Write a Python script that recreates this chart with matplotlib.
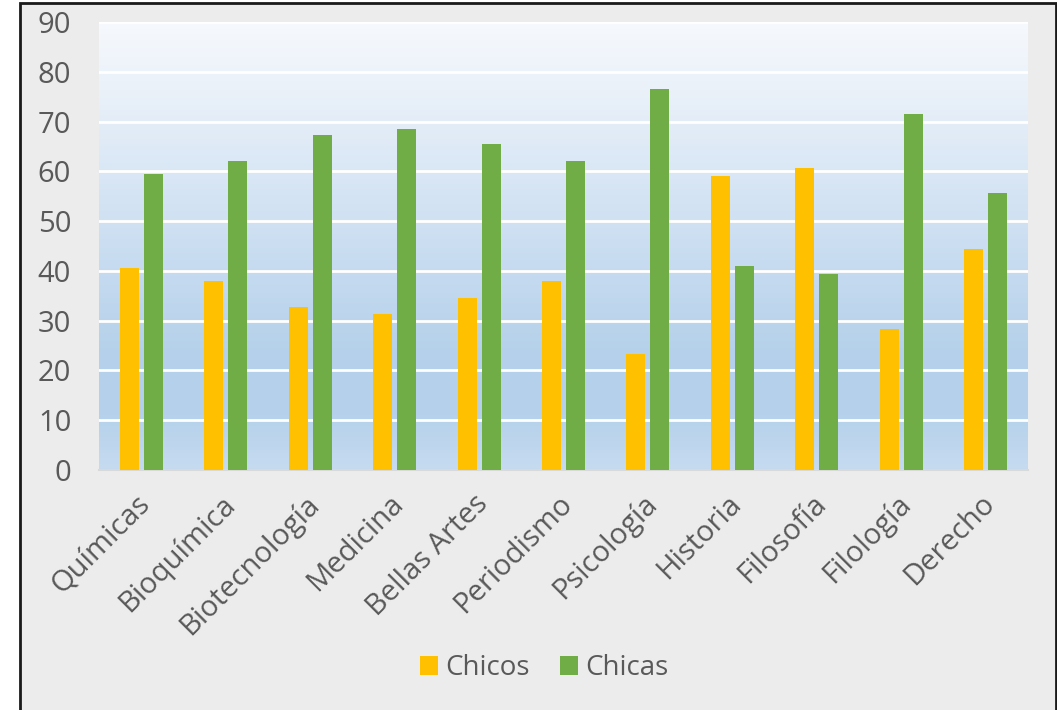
import matplotlib
matplotlib.use("Agg")
import matplotlib.pyplot as plt
import matplotlib.transforms as mtransforms
import numpy as np
from matplotlib.colors import LinearSegmentedColormap
from matplotlib.patches import Rectangle

plt.rcParams["font.family"] = ["Open Sans", "DejaVu Sans"]

carreras = ["Químicas", "Bioquímica", "Biotecnología", "Medicina", "Bellas Artes",
            "Periodismo", "Psicología", "Historia", "Filosofía", "Filología", "Derecho"]
chicos = [40.6, 38.0, 32.8, 31.4, 34.6, 38.0, 23.4, 59.1, 60.6, 28.4, 44.4]
chicas = [59.4, 62.0, 67.2, 68.6, 65.4, 62.0, 76.6, 40.9, 39.4, 71.6, 55.6]
yticks = list(range(0, 91, 10))

W, H = 1057, 710
fig = plt.figure(figsize=(W / 100, H / 100), dpi=100)
fig.patch.set_facecolor("white")

# marco gris con borde negro
fig.patches.append(Rectangle((20 / W, -0.01), 1036 / W, 1 - 3 / H + 0.01,
                             transform=fig.transFigure, facecolor="#ECECEC",
                             edgecolor="#1a1a1a", lw=2, zorder=-10))

ax = fig.add_axes([99 / W, 1 - 470 / H, 929 / W, 448 / H])
ax.set_facecolor("none")

# fondo degradado tipo Excel
grad = LinearSegmentedColormap.from_list(
    "fondo", [(0.0, "#C6DBF0"), (0.12, "#B5D1EB"), (0.25, "#B4D0EA"),
              (0.45, "#C6DBF0"), (0.65, "#D8E6F5"), (0.85, "#EAF1F9"),
              (1.0, "#F6F9FD")])
n = len(carreras)
ax.imshow(np.linspace(0, 1, 256).reshape(-1, 1), cmap=grad, aspect="auto",
          origin="lower", extent=(-0.5, n - 0.5, 0, 90), zorder=0)

x = np.arange(n)
ax.bar(x - 0.142, chicos, width=0.225, color="#FFC000", label="Chicos", zorder=3)
ax.bar(x + 0.142, chicas, width=0.225, color="#70AD47", label="Chicas", zorder=3)

ax.set_xlim(-0.5, n - 0.5)
ax.set_ylim(0, 90)
ax.set_yticks(yticks)
for t in yticks[1:]:
    ax.axhline(t, color="white", lw=2, zorder=1)

for s in ["top", "right", "left"]:
    ax.spines[s].set_visible(False)
ax.spines["bottom"].set_color("#D9D9D9")
ax.spines["bottom"].set_linewidth(1.5)

ax.tick_params(axis="y", length=0, pad=20, labelsize=21, labelcolor="#595959")
ax.tick_params(axis="x", length=0, pad=14, labelsize=21, labelcolor="#595959")
ax.set_xticks(x)
ax.set_xticklabels(carreras, rotation=45, ha="right", rotation_mode="anchor")
desplaza = mtransforms.ScaledTranslation(-4 / 72, 0, fig.dpi_scale_trans)
for lab in ax.get_xticklabels():
    lab.set_transform(lab.get_transform() + desplaza)

fig.legend(loc="center", bbox_to_anchor=(0.515, 1 - 668 / H), ncol=2, frameon=False,
           fontsize=20, labelcolor="#595959", handlelength=0.65, handleheight=0.65,
           handletextpad=0.25, columnspacing=1.1)

fig.savefig("out.png", dpi=100)
